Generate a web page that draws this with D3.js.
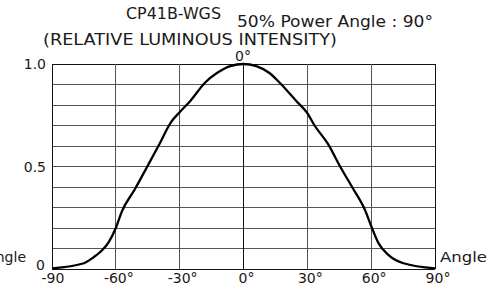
<!DOCTYPE html>
<html>
<head>
<meta charset="utf-8">
<script src="https://cdn.jsdelivr.net/npm/d3@7"></script>
<style>
  body { margin: 0; background: #fff; }
  text { font-family: "DejaVu Sans", sans-serif; fill: #1a1a1a; }
</style>
</head>
<body>
<div class="chart"></div>
<script>
var width = 488, height = 287;

// data: angle (deg) vs relative intensity
var angles = [-90, -75, -70.5, -66.6, -63.4, -60, -57.2, -51, -44.7, -40, -33.8, -30, -25, -18, -12.5, -6.2, 0,
              6, 12.2, 16.9, 24.8, 30, 33.4, 39.7, 45.4, 51.6, 57, 60, 63.5, 68.2, 75.2, 90];
var intensity = [0.003, 0.028, 0.057, 0.09, 0.13, 0.2, 0.28, 0.39, 0.51, 0.6, 0.72, 0.765, 0.82, 0.91, 0.956, 0.99, 1.0,
                 0.99, 0.956, 0.91, 0.82, 0.76, 0.70, 0.61, 0.50, 0.39, 0.29, 0.21, 0.125, 0.068, 0.028, 0.003];
var xTicks = [-90, -60, -30, 0, 30, 60, 90];
var xTickLabels = ["-90", "-60°", "-30°", "0°", "30°", "60°", "90°"];
var yGrid = d3.range(0, 1.01, 0.1);
var yTickVals = [1.0, 0.5];
var yTickLabels = ["1.0", "0.5"];

var svg = d3.select(".chart").append("svg")
  .attr("width", width)
  .attr("height", height);

var x = d3.scaleLinear().domain([-90, 90]).range([52, 435]);
var y = d3.scaleLinear().domain([0, 1]).range([269, 64]);

// grid
var grid = svg.append("g").attr("shape-rendering", "crispEdges");
grid.selectAll(".h").data(yGrid).join("line")
  .attr("x1", x(-90)).attr("x2", x(90))
  .attr("y1", d => y(d)).attr("y2", d => y(d))
  .attr("stroke", d => (d < 0.01 || d > 0.99) ? "#111" : "#555")
  .attr("stroke-width", 1);
grid.selectAll(".v").data(xTicks).join("line")
  .attr("x1", d => x(d)).attr("x2", d => x(d))
  .attr("y1", y(0)).attr("y2", y(1))
  .attr("stroke", d => Math.abs(d) == 90 || d == 0 ? "#111" : "#555")
  .attr("stroke-width", 1);

// curve
var pts = angles.map((a, i) => [a, intensity[i]]);
svg.append("path")
  .datum(pts)
  .attr("fill", "none")
  .attr("stroke", "#000")
  .attr("stroke-width", 2.3)
  .attr("stroke-linejoin", "round")
  .attr("d", d3.line().x(d => x(d[0])).y(d => y(d[1])).curve(d3.curveMonotoneX));

// axis labels
svg.selectAll(".xl").data(xTicks).join("text")
  .attr("x", d => x(d) + (d === -90 ? 1 : 3))
  .attr("y", 283)
  .attr("text-anchor", "middle")
  .attr("font-size", 14)
  .text((d, i) => xTickLabels[i]);

svg.selectAll(".yl").data(yTickVals).join("text")
  .attr("x", 46)
  .attr("y", d => y(d) + 5)
  .attr("text-anchor", "end")
  .attr("font-size", 14)
  .text((d, i) => yTickLabels[i]);

svg.append("text").attr("x", 45).attr("y", 270).attr("text-anchor", "end")
  .attr("font-size", 14).text("0");

svg.append("text").attr("x", 243).attr("y", 61).attr("text-anchor", "middle")
  .attr("font-size", 14).text("0°");

svg.append("text").attr("x", 26).attr("y", 262).attr("text-anchor", "end")
  .attr("font-size", 14).text("Angle");
svg.append("text").attr("x", 440).attr("y", 262)
  .attr("font-size", 14).attr("textLength", 47).attr("lengthAdjust", "spacingAndGlyphs")
  .text("Angle");

// titles
svg.append("text").attr("x", 126).attr("y", 19)
  .attr("font-size", 15).attr("textLength", 95).attr("lengthAdjust", "spacingAndGlyphs")
  .text("CP41B-WGS");
svg.append("text").attr("x", 237).attr("y", 27)
  .attr("font-size", 15).attr("textLength", 196).attr("lengthAdjust", "spacingAndGlyphs")
  .text("50% Power Angle : 90°");
svg.append("text").attr("x", 43).attr("y", 45)
  .attr("font-size", 15).attr("textLength", 294).attr("lengthAdjust", "spacingAndGlyphs")
  .text("(RELATIVE LUMINOUS INTENSITY)");
</script>
</body>
</html>
